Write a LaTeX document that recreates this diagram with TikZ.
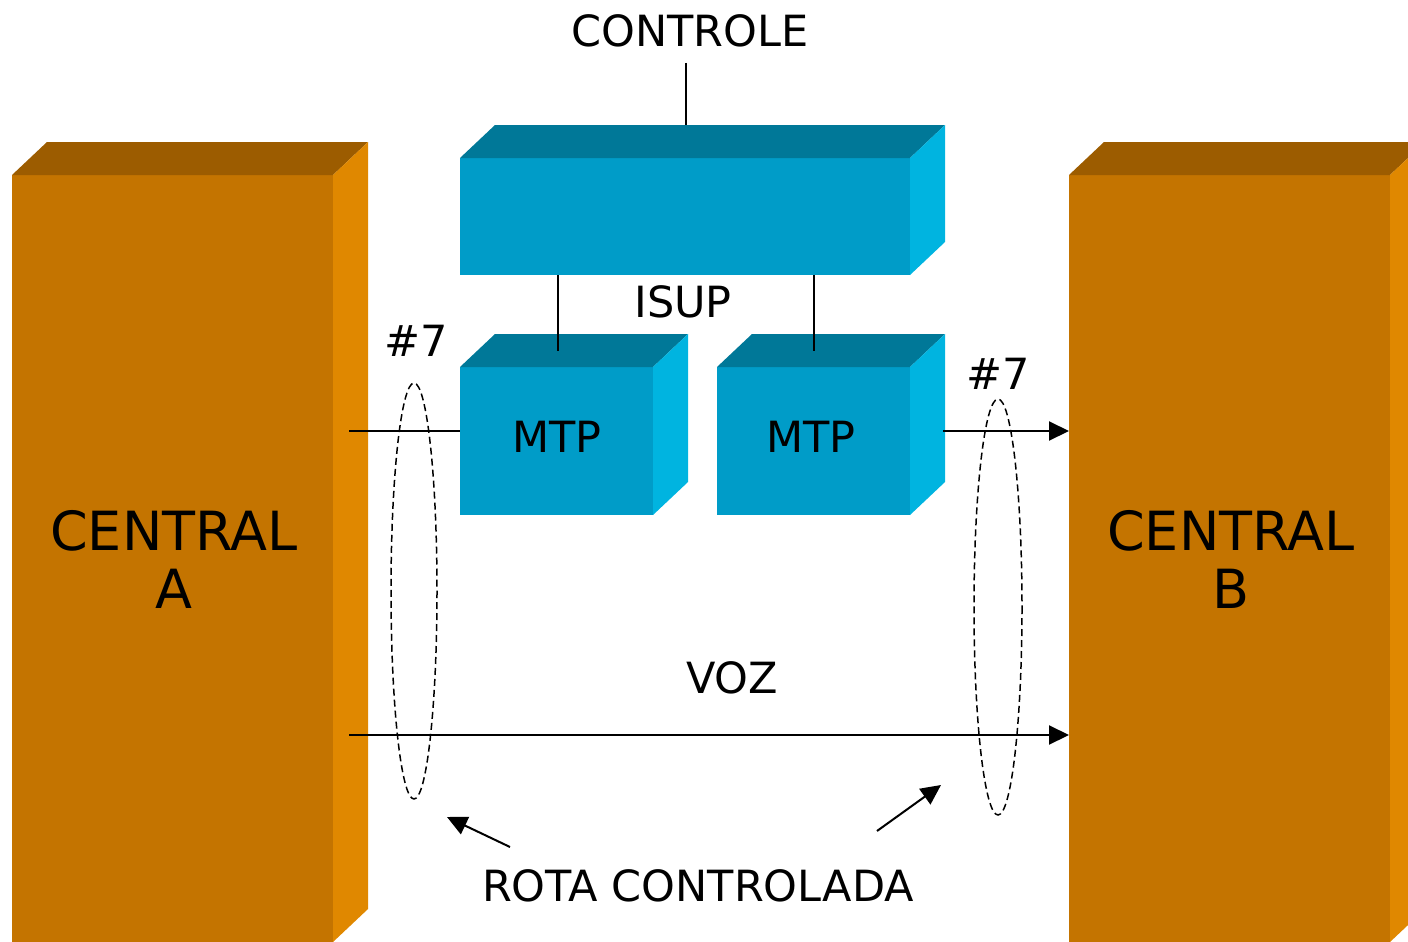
\documentclass[tikz,border=0pt]{standalone}
\usepackage{fontspec}
\setmainfont{DejaVu Sans}
\usetikzlibrary{arrows.meta}
\definecolor{orfront}{HTML}{C47400}
\definecolor{ortop}{HTML}{9C5C00}
\definecolor{orside}{HTML}{E08800}
\definecolor{blfront}{HTML}{009CC8}
\definecolor{bltop}{HTML}{007898}
\definecolor{blside}{HTML}{00B4E0}
\tikzset{
  face/.style={inner sep=0pt, outer sep=0pt, anchor=north west, draw=none, align=center},
  orbox/.style={face, fill=orfront},
  blbox/.style={face, fill=blfront},
  lbl/.style={font=\fontsize{43}{50}\selectfont, inner sep=0pt},
  big/.style={font=\fontsize{54}{58}\selectfont, align=center, inner sep=0pt},
  wire/.style={line width=2pt},
  arr/.style={line width=2pt, -{Triangle[length=20pt,width=19pt]}},
  ring/.style={line width=1.5pt, dash pattern=on 7pt off 4pt}
}
\newcommand{\cubeparts}[4]{% node, topcolor, sidecolor, height
  \fill[#2] (#1.north west) -- ++(35,-33) -- ([xshift=35pt,yshift=33pt]#1.north east) -- (#1.north east) -- cycle;
  \fill[#3] (#1.north east) -- ++(35,-33) -- ++(0,#4) -- (#1.south east) -- cycle;
}
\begin{document}
\begin{tikzpicture}[x=1pt,y=-1pt]
\useasboundingbox (0,0) rectangle (1408,942);
\clip (0,0) rectangle (1408,942);

% Centrals
\node[orbox, minimum width=321pt, minimum height=767pt] (A) at (12,175) {};
\cubeparts{A}{ortop}{orside}{767}
\node[orbox, minimum width=321pt, minimum height=767pt] (B) at (1069,175) {};
\cubeparts{B}{ortop}{orside}{767}
\node[big] (Atxt) at (174,559) {CENTRAL\\A};
\node[big] (Btxt) at (1231,559) {CENTRAL\\B};

% Controle box
\node[blbox, minimum width=450pt, minimum height=117pt] (C) at (460,158) {};
\cubeparts{C}{bltop}{blside}{117}

% MTP boxes
\node[blbox, minimum width=193pt, minimum height=148pt] (M1) at (460,367) {};
\cubeparts{M1}{bltop}{blside}{148}
\node[blbox, minimum width=193pt, minimum height=148pt] (M2) at (717,367) {};
\cubeparts{M2}{bltop}{blside}{148}
\node[lbl] (M1t) at (557,437) {MTP};
\node[lbl] (M2t) at (811,437) {MTP};

% Labels
\node[lbl] (ctl) at (690,31) {CONTROLE};
\node[lbl] (isup) at (683,302) {ISUP};
\node[lbl] (s7a) at (416,341) {\#7};
\node[lbl] (s7b) at (998,374) {\#7};
\node[lbl] (voz) at (732,678) {VOZ};
\node[lbl] (rota) at (698,886) {ROTA CONTROLADA};

% Coordinates
\coordinate (ctlb) at (686,63);
\coordinate (ctop) at (686,125);
\coordinate (aL1) at (349,431);
\coordinate (m2r) at (943,431);
\coordinate (aL2) at (349,735);
\coordinate (r1s) at (510,847);
\coordinate (r1e) at (447,817);
\coordinate (r2s) at (877,831);
\coordinate (r2e) at (941,785);

% Connectors
\draw[wire] (ctlb) -- (ctop);
\draw[wire] (C.south -| 558,0) -- (558,351);
\draw[wire] (C.south -| 814,0) -- (814,351);
\draw[wire] (aL1) -- (aL1 -| M1.west);
\draw[arr] (m2r) -- (m2r -| B.west);
\draw[arr] (aL2) -- (aL2 -| B.west);
\draw[arr] (r1s) -- (r1e);
\draw[arr] (r2s) -- (r2e);

% Dashed rings
\draw[ring] (414,591) ellipse [x radius=23, y radius=208];
\draw[ring] (998,607) ellipse [x radius=24, y radius=208];
\end{tikzpicture}
\end{document}
